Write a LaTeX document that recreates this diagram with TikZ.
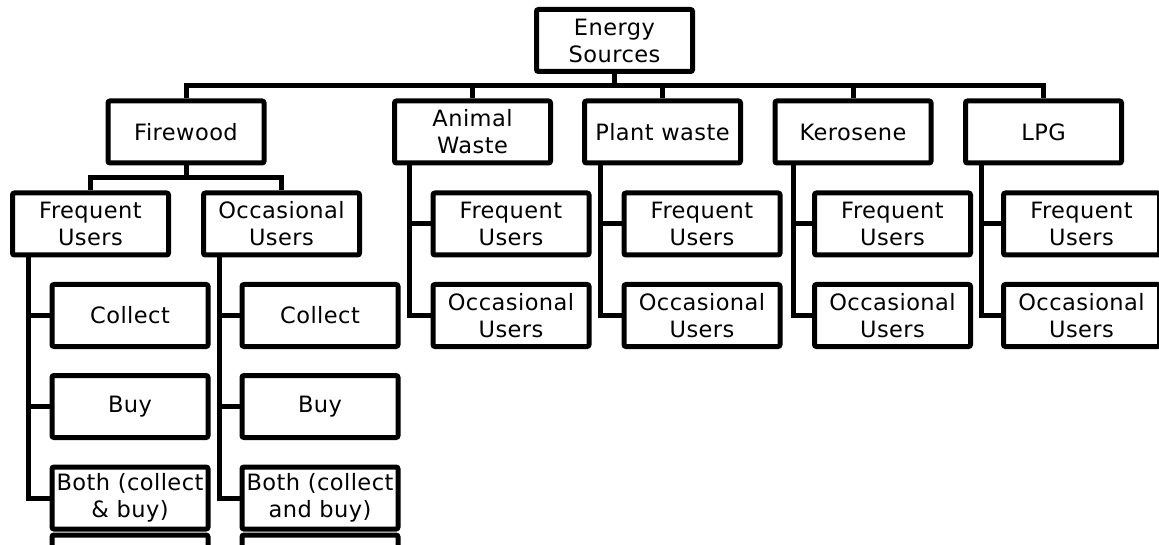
\documentclass[tikz,border=0pt]{standalone}
\usepackage{fontspec}
\setmainfont[LetterSpace=2]{DejaVu Sans}
\begin{document}
\begin{tikzpicture}[x=1pt,y=-1pt,
  box/.style={draw=black, line width=5pt, rounded corners=2pt, fill=white,
    minimum width=156pt, minimum height=62pt, inner sep=0pt, align=center,
    font=\fontsize{22.5}{27}\selectfont},
  conn/.style={draw=black, line width=5pt}]
\useasboundingbox (0,0) rectangle (1159,545);
\begin{scope}
\clip (0,0) rectangle (1159,545);
% level 0
\node[box] (E) at (614.5,40.5) {Energy\\Sources};
% level 1
\node[box] (FW) at (186,132) {Firewood};
\node[box] (AW) at (472.5,132) {Animal\\Waste};
\node[box] (PW) at (662.5,132) {Plant waste};
\node[box] (KE) at (853,132) {Kerosene};
\node[box] (LP) at (1043.5,132) {LPG};
% firewood users
\node[box] (FF) at (90.5,224) {Frequent\\Users};
\node[box] (FO) at (281.5,224) {Occasional\\Users};
% firewood frequent options
\node[box] (FFc) at (130,315.5) {Collect};
\node[box] (FFb) at (130,406.5) {Buy};
\node[box] (FFx) at (130,498) {Both (collect\\\& buy)};
\node[box] (FFy) at (130,566) {};
% firewood occasional options
\node[box] (FOc) at (320,315.5) {Collect};
\node[box] (FOb) at (320,406.5) {Buy};
\node[box] (FOx) at (320,498) {Both (collect\\and buy)};
\node[box] (FOy) at (320,566) {};
% other sources
\node[box] (AWf) at (511,224) {Frequent\\Users};
\node[box] (AWo) at (511,315.5) {Occasional\\Users};
\node[box] (PWf) at (702,224) {Frequent\\Users};
\node[box] (PWo) at (702,315.5) {Occasional\\Users};
\node[box] (KEf) at (892.5,224) {Frequent\\Users};
\node[box] (KEo) at (892.5,315.5) {Occasional\\Users};
\node[box] (LPf) at (1081.5,224) {Frequent\\Users};
\node[box] (LPo) at (1081.5,315.5) {Occasional\\Users};

% bus coordinates
\coordinate (bus) at (0,86);
\coordinate (fbus) at (0,178);
\coordinate (s1) at (28,0);
\coordinate (s2) at (219,0);
\coordinate (s3) at (409,0);
\coordinate (s4) at (600,0);
\coordinate (s5) at (793,0);
\coordinate (s6) at (981,0);

% top bus
\draw[conn] (E.south) -- (E.south |- bus);
\draw[conn] (FW.north) -- (FW.north |- bus) -- (LP.north |- bus) -- (LP.north);
\draw[conn] (AW.north) -- (AW.north |- bus);
\draw[conn] (PW.north) -- (PW.north |- bus);
\draw[conn] (KE.north) -- (KE.north |- bus);
% firewood bus
\draw[conn] (FW.south) -- (FW.south |- fbus);
\draw[conn] (FF.north) -- (FF.north |- fbus) -- (FO.north |- fbus) -- (FO.north);
% firewood frequent spine
\draw[conn] (s1 |- FF.south) |- (FFx.west);
\draw[conn] (s1 |- FFc.west) -- (FFc.west);
\draw[conn] (s1 |- FFb.west) -- (FFb.west);
% firewood occasional spine
\draw[conn] (s2 |- FO.south) |- (FOx.west);
\draw[conn] (s2 |- FOc.west) -- (FOc.west);
\draw[conn] (s2 |- FOb.west) -- (FOb.west);
% other spines
\draw[conn] (s3 |- AW.south) |- (AWo.west);
\draw[conn] (s3 |- AWf.west) -- (AWf.west);
\draw[conn] (s4 |- PW.south) |- (PWo.west);
\draw[conn] (s4 |- PWf.west) -- (PWf.west);
\draw[conn] (s5 |- KE.south) |- (KEo.west);
\draw[conn] (s5 |- KEf.west) -- (KEf.west);
\draw[conn] (s6 |- LP.south) |- (LPo.west);
\draw[conn] (s6 |- LPf.west) -- (LPf.west);
\end{scope}
\end{tikzpicture}
\end{document}
